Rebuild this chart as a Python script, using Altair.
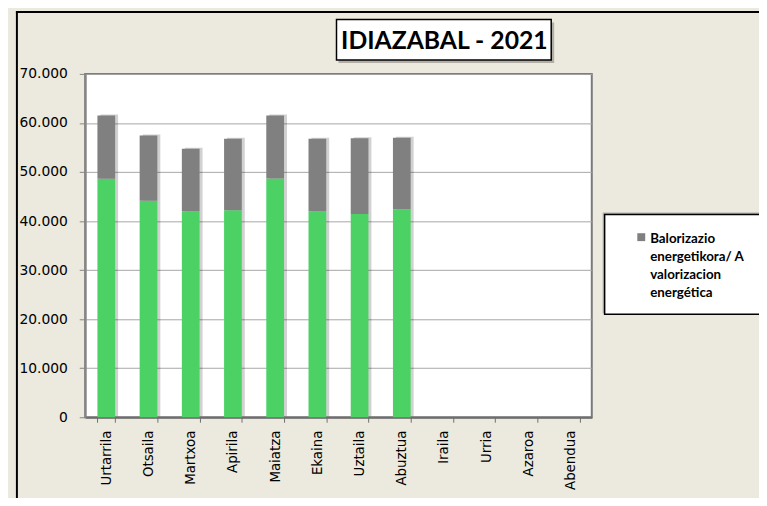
import altair as alt
import pandas as pd

months = ["Urtarrila", "Otsaila", "Martxoa", "Apirila", "Maiatza", "Ekaina",
          "Uztaila", "Abuztua", "Iraila", "Urria", "Azaroa", "Abendua"]
months_with_data = months[:8]
green_vals = [48600, 44150, 42000, 42200, 48700, 42000, 41450, 42400]
gray_vals = [12900, 13310, 12760, 14570, 12800, 14770, 15450, 14580]
series_green = "Bestelakoa"
series_gray = "Balorizazio energetikora/ A valorizacion energética"
legend_lines = ["Balorizazio", "energetikora/ A", "valorizacion", "energética"]
title_text = "IDIAZABAL - 2021"
y_ticks = [0, 10000, 20000, 30000, 40000, 50000, 60000, 70000]

GREEN = "#4CD264"
GRAY = "#808080"
BG = "#ECE9DE"

rows = []
for m, g, r in zip(months_with_data, green_vals, gray_vals):
    rows.append({"month": m, "series": series_green, "value": g, "ord": 0})
    rows.append({"month": m, "series": series_gray, "value": r, "ord": 1})
df = pd.DataFrame(rows)

xscale = alt.Scale(domain=months, paddingInner=0.58, paddingOuter=0.29)
yscale = alt.Scale(domain=[0, 70000], nice=False)

x_axis = alt.Axis(title=None, labelAngle=-90, labelAlign="right", labelBaseline="middle",
                  tickBand="extent", domainColor="#6E6E6E", domainWidth=2,
                  tickColor="#6E6E6E", tickWidth=1, tickSize=5, labelPadding=8,
                  labelFont="DejaVu Sans", labelFontSize=13.5, labelColor="#000000", grid=False)
y_axis = alt.Axis(title=None, values=y_ticks,
                  labelExpr="replace(format(datum.value, ','), ',', '.')",
                  domainColor="#868686", domainWidth=2, tickColor="#868686", tickSize=6,
                  labelPadding=12, labelFont="DejaVu Sans", labelFontSize=14,
                  labelColor="#000000", grid=True, gridColor="#A6A6A6", gridWidth=1)

shadow = alt.Chart(df).transform_aggregate(
    total="sum(value)", groupby=["month"]
).mark_bar(color="#000000", opacity=0.18, xOffset=3, yOffset=-1).encode(
    x=alt.X("month:N", scale=xscale, axis=x_axis, sort=months),
    y=alt.Y("total:Q", scale=yscale, axis=y_axis),
)

bars = alt.Chart(df).mark_bar().encode(
    x=alt.X("month:N", scale=xscale, axis=x_axis, sort=months),
    y=alt.Y("value:Q", scale=yscale, axis=y_axis, stack="zero"),
    order=alt.Order("ord:Q"),
    color=alt.Color("series:N",
                    scale=alt.Scale(domain=[series_green, series_gray], range=[GREEN, GRAY]),
                    legend=alt.Legend(values=[series_gray], title=legend_lines,
                                      titleOrient="right", titleAnchor="start",
                                      titleBaseline="top", titleFont="Lato",
                                      titleFontWeight="bold", titleFontSize=13.5,
                                      titleColor="#000000", titleLineHeight=18,
                                      titlePadding=4, titleLimit=300,
                                      orient="none", legendX=557, legendY=160, padding=0,
                                      symbolType="square", symbolSize=64,
                                      symbolStrokeWidth=0, symbolFillColor=GRAY,
                                      labelExpr="''", labelOffset=0, labelLimit=300)),
)

one = pd.DataFrame({"k": [0]})

# frame drawn as two rules (left and top edges); right/bottom lie outside the window
frame_left = alt.Chart(one).mark_rule(color="#000000", strokeWidth=2).encode(
    x=alt.value(-69), y=alt.value(-63), y2=alt.value(430))
frame_top = alt.Chart(one).mark_rule(color="#000000", strokeWidth=2).encode(
    x=alt.value(-70), x2=alt.value(690), y=alt.value(-62.5))

title_shadow = alt.Chart(one).mark_rect(fill="#000000", opacity=0.25).encode(
    x=alt.value(256), x2=alt.value(474), y=alt.value(-52), y2=alt.value(-11))
title_box = alt.Chart(one).mark_rect(fill="#FFFFFF", stroke="#000000", strokeWidth=1.5).encode(
    x=alt.value(254), x2=alt.value(471), y=alt.value(-55), y2=alt.value(-14))
title_df = pd.DataFrame({"t": [title_text]})
title = alt.Chart(title_df).mark_text(font="Lato", fontWeight="bold", fontSize=25,
                                      color="#000000", align="center", baseline="middle").encode(
    x=alt.value(363), y=alt.value(-33.5), text="t:N")

legend_shadow = alt.Chart(one).mark_rect(fill="#000000", opacity=0.25).encode(
    x=alt.value(523), x2=alt.value(690), y=alt.value(140), y2=alt.value(242))
legend_fill = alt.Chart(one).mark_rect(fill="#FFFFFF").encode(
    x=alt.value(525), x2=alt.value(690), y=alt.value(142), y2=alt.value(243))
legend_edges = alt.Chart(one).mark_rule(color="#000000", strokeWidth=1.5).encode(
    x=alt.value(525), y=alt.value(142), y2=alt.value(243))
legend_top = alt.Chart(one).mark_rule(color="#000000", strokeWidth=1.5).encode(
    x=alt.value(524.25), x2=alt.value(690), y=alt.value(142))
legend_bottom = alt.Chart(one).mark_rule(color="#000000", strokeWidth=1.5).encode(
    x=alt.value(524.25), x2=alt.value(690), y=alt.value(243))

chart = alt.layer(
    frame_left, frame_top, title_shadow, title_box, title, legend_shadow, legend_fill,
    legend_edges, legend_top, legend_bottom, shadow, bars
).properties(
    width=512, height=347,
    autosize=alt.AutoSizeParams(type="none"),
    padding={"left": 78, "top": 64, "right": 169, "bottom": 79},
    background=BG,
).configure_view(
    fill="#FFFFFF", stroke="#7A7A7A", strokeWidth=2
)

chart.save("out.html", embed_options={"renderer": "svg", "actions": False})
